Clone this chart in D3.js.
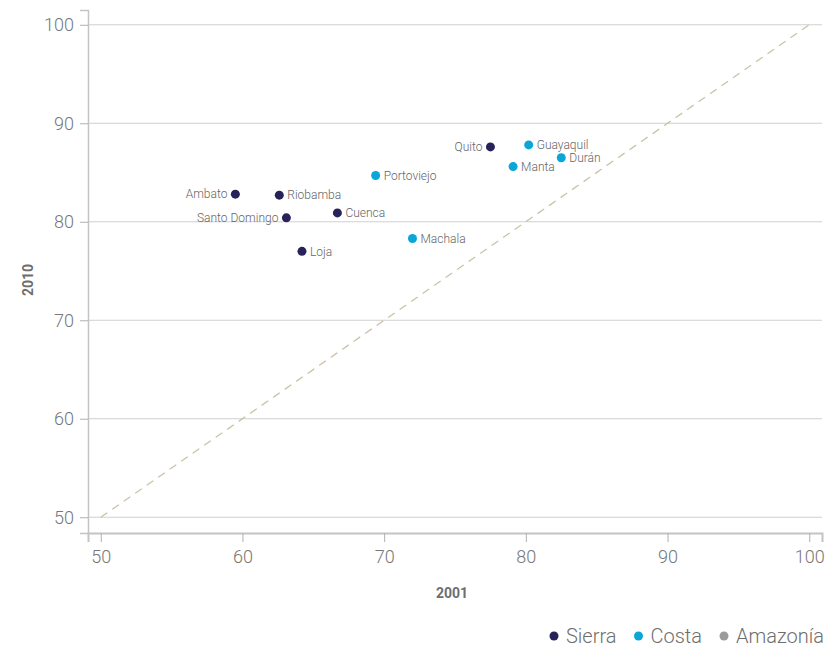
<!DOCTYPE html>
<html><head><meta charset="utf-8">
<script src="https://cdn.jsdelivr.net/npm/d3@7"></script>
<style>
body{margin:0;background:#fff;}
text{font-family:Roboto,"Noto Sans",sans-serif;}
</style></head><body>
<svg id="c" width="832" height="648"></svg>
<script>
const cities = ["Ambato","Riobamba","Santo Domingo","Cuenca","Loja","Portoviejo","Machala","Quito","Guayaquil","Manta","Durán"];
const x2001 = [59.5,62.6,63.1,66.7,64.2,69.4,72.0,77.5,80.2,79.1,82.5];
const y2010 = [82.8,82.7,80.4,80.9,77.0,84.7,78.3,87.6,87.8,85.6,86.5];
const region = ["Sierra","Sierra","Sierra","Sierra","Sierra","Costa","Costa","Sierra","Costa","Costa","Costa"];
const labelSide = ["left","right","left","right","right","right","right","left","right","right","right"];
const regions = ["Sierra","Costa","Amazonía"];
const regionColors = ["#27235a","#0aa6d8","#9b9b9b"];
const ticks = [50,60,70,80,90,100];

const svg = d3.select("#c");
const x = d3.scaleLinear().domain([49.1,100.9]).range([88,822]);
const y = d3.scaleLinear().domain([48.4,101.5]).range([533,10]);
const color = d3.scaleOrdinal().domain(regions).range(regionColors);

// grid
svg.append("g").selectAll("line").data(ticks).join("line")
  .attr("x1",88).attr("x2",822).attr("y1",d=>y(d)).attr("y2",d=>y(d))
  .attr("stroke","#d0d0d0").attr("stroke-width",1);

// y axis
const ya = svg.append("g").attr("transform","translate(88,0)")
  .call(d3.axisLeft(y).tickValues(ticks).tickSize(8).tickPadding(6));
ya.select(".domain").attr("stroke","#c4c4c4").attr("stroke-width",1.5);
ya.selectAll(".tick line").attr("stroke","#b0b0b0");
ya.selectAll(".tick text").attr("fill","#777777").attr("font-size",18).attr("font-weight",300).attr("dy","0.34em");

// x axis
const xa = svg.append("g").attr("transform","translate(0,533)")
  .call(d3.axisBottom(x).tickValues(ticks).tickSize(9).tickPadding(8));
xa.select(".domain").attr("stroke","#c4c4c4").attr("stroke-width",2);
xa.selectAll(".tick line").attr("stroke","#b0b0b0");
xa.selectAll(".tick text").attr("fill","#777777").attr("font-size",18).attr("font-weight",300);

// diagonal
svg.append("line").attr("x1",x(50)).attr("y1",y(50)).attr("x2",x(100)).attr("y2",y(100))
  .attr("stroke","#c9c3a6").attr("stroke-width",1.3).attr("stroke-dasharray","8,6");

// axis titles
svg.append("text").attr("x",452).attr("y",598).attr("text-anchor","middle")
  .attr("font-size",14).attr("font-weight",700).attr("fill","#6e6e6e").text("2001");
svg.append("text").attr("transform","translate(33,280) rotate(-90)").attr("text-anchor","middle")
  .attr("font-size",14).attr("font-weight",700).attr("fill","#6e6e6e").text("2010");

// points
const data = cities.map((c,i)=>({c,x:x2001[i],y:y2010[i],r:region[i],s:labelSide[i]}));
const g = svg.append("g");
g.selectAll("circle").data(data).join("circle")
  .attr("cx",d=>x(d.x)).attr("cy",d=>y(d.y)).attr("r",4.5).attr("fill",d=>color(d.r));
g.selectAll("text").data(data).join("text")
  .attr("x",d=>x(d.x)+(d.s==="left"?-8:8)).attr("y",d=>y(d.y))
  .attr("dy","0.35em").attr("text-anchor",d=>d.s==="left"?"end":"start")
  .attr("font-size",12).attr("font-weight",300).attr("fill","#666666").text(d=>d.c);

// legend
const lg = svg.append("g");
let lx = 549;
regions.forEach((r,i)=>{
  lg.append("circle").attr("cx",lx+5).attr("cy",636).attr("r",4.5).attr("fill",regionColors[i]);
  const t = lg.append("text").attr("x",lx+17).attr("y",636).attr("dy","0.35em")
    .attr("font-size",20).attr("font-weight",300).attr("fill","#6e6e6e").text(r);
  lx += 17 + t.node().getComputedTextLength() + 17;
});
</script>
</body></html>
